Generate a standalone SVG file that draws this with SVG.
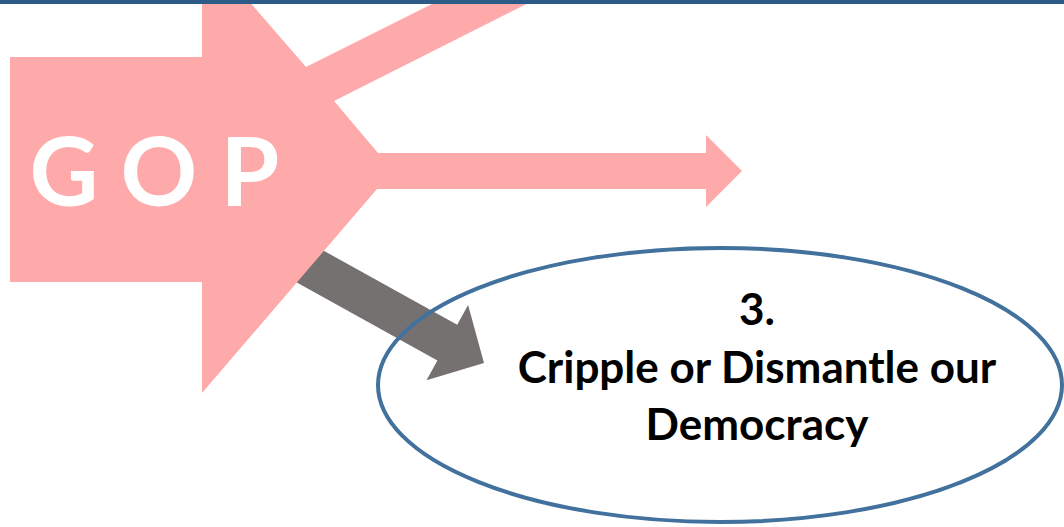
<svg xmlns="http://www.w3.org/2000/svg" width="1064" height="527" viewBox="0 0 1064 527">
  <style>
    .pink { fill: #FEAAAA; }
    .gray { fill: #767171; }
    .oval { fill: none; stroke: #41719C; stroke-width: 4; }
    .gop { font-family: Lato, "Liberation Sans", sans-serif; font-weight: bold; font-size: 95px; fill: #FFFFFF; }
    .lbl { font-family: Lato, "Liberation Sans", sans-serif; font-weight: bold; font-size: 44px; fill: #000000; }
  </style>
  <rect x="0" y="0" width="1064" height="527" fill="#FFFFFF"/>
  <g id="connectors">
    <polygon class="gray" points="288.7,278.1 308.5,242.3 457.2,324.7 468.1,304.9 484,363 426.5,380.2 437.4,360.5"/>
  </g>
  <g id="node-gop">
    <path class="pink" d="M10,57 H202 V-53 L306,67 L480,-20 L574,-20 L334,101 L378,153 H706 V135 L742,171 L706,207 V189 H377 L202,393 V282 H10 Z"/>
    <text class="gop" text-anchor="middle" x="64 111 159 205 250" y="206">G O P</text>
  </g>
  <g id="node-democracy">
    <ellipse class="oval" cx="720" cy="385" rx="342" ry="137"/>
    <text class="lbl" text-anchor="middle" x="757" y="325">3.</text>
    <text class="lbl" text-anchor="middle" x="757" y="383">Cripple or Dismantle our</text>
    <text class="lbl" text-anchor="middle" x="757" y="440">Democracy</text>
  </g>
  <rect x="0" y="0" width="1064" height="4" fill="#2E5A87"/>
</svg>
